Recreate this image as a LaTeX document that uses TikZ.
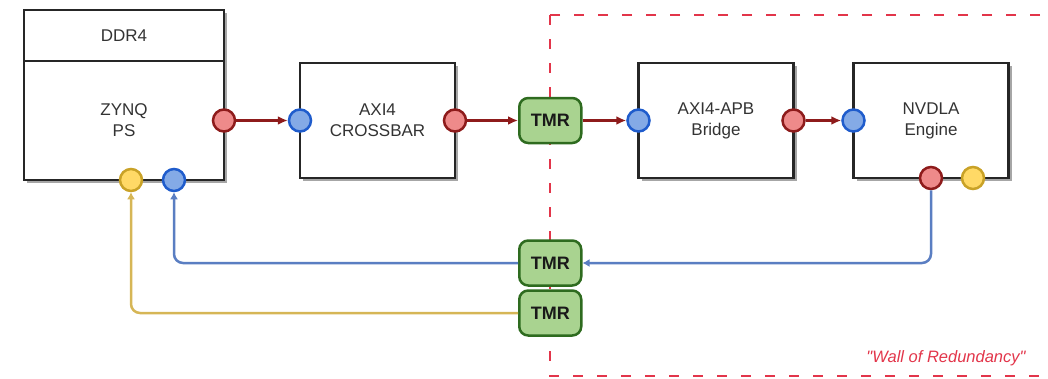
\documentclass[tikz,border=0pt]{standalone}
\usepackage{fontspec}
\setmainfont{Liberation Sans}
\usetikzlibrary{arrows.meta, positioning, shadows}

\definecolor{boxline}{HTML}{262626}
\definecolor{labelgray}{HTML}{333333}
\definecolor{redfill}{HTML}{EE8A8A}
\definecolor{redline}{HTML}{8E1B1B}
\definecolor{bluefill}{HTML}{84AAE6}
\definecolor{blueedge}{HTML}{1F5CCC}
\definecolor{yellowfill}{HTML}{FFD966}
\definecolor{yellowedge}{HTML}{C9A227}
\definecolor{tmrfill}{HTML}{A9D390}
\definecolor{tmrline}{HTML}{2E6B1F}
\definecolor{blueret}{HTML}{5A7EC2}
\definecolor{yellowret}{HTML}{D6B656}
\definecolor{wallred}{HTML}{E2354A}

\begin{document}
\begin{tikzpicture}[x=1pt, y=-1pt, font=\fontsize{17}{21}\selectfont,
	block/.style={draw=boxline, line width=2.8pt, fill=white, rectangle, outer sep=0pt,
		minimum width=155pt, minimum height=115pt, align=center, text=labelgray,
		drop shadow={shadow xshift=3pt, shadow yshift=-3pt, fill=black, opacity=0.35}},
	port/.style={circle, line width=2.5pt, minimum size=22pt, inner sep=0pt},
	outport/.style={port, draw=redline, fill=redfill},
	inport/.style={port, draw=blueedge, fill=bluefill},
	irqport/.style={port, draw=yellowedge, fill=yellowfill},
	tmr/.style={draw=tmrline, fill=tmrfill, line width=2.5pt, rounded corners=9pt,
		minimum width=62pt, minimum height=45pt, inner sep=0pt, text=black!90,
		font=\fontsize{18}{20}\selectfont\bfseries},
	link/.style={draw=redline, line width=2.5pt, -{Latex[length=10pt, width=9pt]}},
	back/.style={line width=2.5pt, rounded corners=9pt, -{Latex[length=7pt, width=8pt]}}]

		\useasboundingbox (0,0) rectangle (1048,378);
		\clip (0,0) rectangle (1048,378);

		% Wall
		\draw[wallred, line width=2.5pt, dash pattern=on 10pt off 14pt] (550,15) rectangle (1070,376);
		\node[text=wallred, font=\fontsize{16.5}{18}\selectfont\itshape] (wall) at (946,358) {\textquotedbl Wall of Redundancy\textquotedbl};

		% Nodes
		\node[block, minimum width=200pt, minimum height=51pt] (ddr) at (124,35.5) {DDR4};
		\node[block, minimum width=200pt, minimum height=119pt, below=0pt of ddr] (zynq) {ZYNQ\\PS};
		\node[block, right=76pt of zynq] (xbar) {AXI4\\CROSSBAR};
		\node[tmr, right=63pt of xbar] (tmrA) {TMR};
		\node[block, right=56pt of tmrA] (apb) {AXI4-APB\\Bridge};
		\node[block, right=60pt of apb] (nvdla) {NVDLA\\Engine};
		\node[tmr] (tmrB) at (tmrA |- 0,263) {TMR};
		\node[tmr, below=2.5pt of tmrB] (tmrC) {TMR};

		% Ports
		\node[outport] (zynqOut) at (zynq.east) {};
		\node[irqport] (zynqY) at ([xshift=7pt]zynq.south) {};
		\node[inport] (zynqB) at ([xshift=50pt]zynq.south) {};
		\node[inport] (xbarIn) at (xbar.west) {};
		\node[outport] (xbarOut) at (xbar.east) {};
		\node[inport] (apbIn) at (apb.west) {};
		\node[outport] (apbOut) at (apb.east) {};
		\node[inport] (nvdlaIn) at (nvdla.west) {};
		\node[outport] (nvdlaOut) at (nvdla.south) {};
		\node[irqport] (nvdlaY) at ([xshift=42pt]nvdla.south) {};

		% Arrows
		\draw[link] (zynqOut) -- (xbarIn);
		\draw[link] (xbarOut) -- (tmrA);
		\draw[link] (tmrA) -- (apbIn);
		\draw[link] (apbOut) -- (nvdlaIn);
		\draw[back, blueret] (nvdlaOut) |- (tmrB);
		\draw[back, blueret] (tmrB) -| (zynqB);
		\draw[back, yellowret] (tmrC) -| (zynqY);

\end{tikzpicture}
\end{document}
